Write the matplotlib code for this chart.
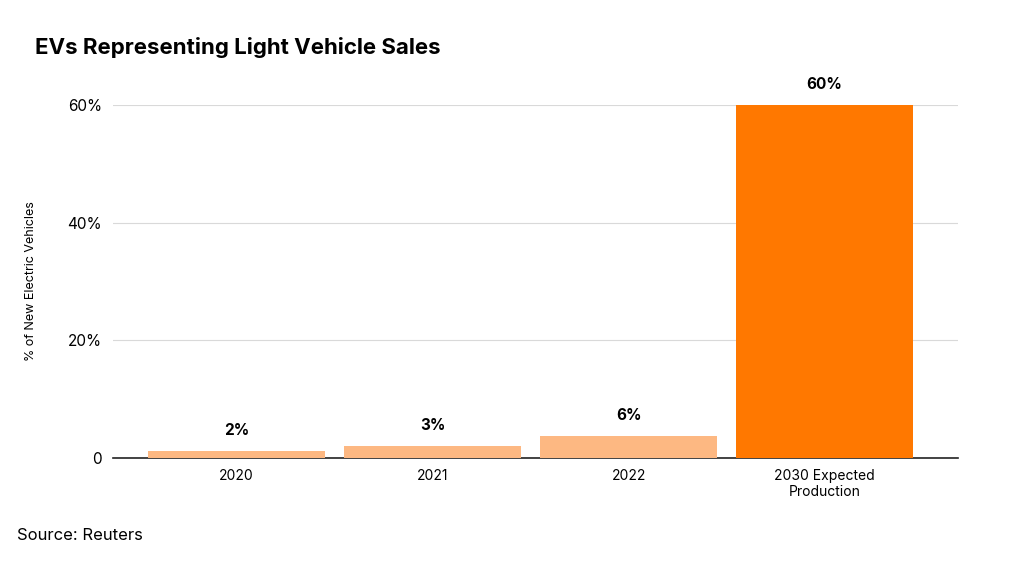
import matplotlib.pyplot as plt
import numpy as np

categories = ["2020", "2021", "2022", "2030 Expected\nProduction"]
heights = [1.2, 2.0, 3.7, 60.0]
labels = ["2%", "3%", "6%", "60%"]
colors = ["#fdb882", "#fdb882", "#fdb882", "#ff7800"]

plt.rcParams['font.family'] = ['Inter', 'DejaVu Sans']

fig = plt.figure(figsize=(10.24, 5.65), dpi=100)
ax = fig.add_axes([113/1024, 1-458/565, (958-113)/1024, (458-105)/565])

x = np.arange(len(categories))
ax.bar(x, heights, width=0.9, color=colors, zorder=3)
for xi, h, lab in zip(x, heights, labels):
    ax.text(xi, h + 2.2, lab, ha='center', va='bottom', fontsize=11, fontweight='bold')

ax.set_xlim(-0.63, 3.68)
ax.set_ylim(0, 60)
ax.set_yticks([0, 20, 40, 60])
ax.set_yticklabels(["0", "20%", "40%", "60%"], fontsize=11)
ax.set_xticks(x)
ax.set_xticklabels(categories, fontsize=10)
ax.tick_params(length=0, pad=8)
ax.grid(axis='y', color='#d9d9d9', linewidth=0.8, zorder=0)
for s in ['top', 'right', 'left']:
    ax.spines[s].set_visible(False)
ax.spines['bottom'].set_color('#222222')
ax.spines['bottom'].set_linewidth(1.2)
ax.set_ylabel("% of New Electric Vehicles", fontsize=9, labelpad=22)

fig.text(35/1024, 1-47/565, "EVs Representing Light Vehicle Sales", fontsize=16,
         fontweight='bold', va='center')
fig.text(17/1024, 1-536/565, "Source: Reuters", fontsize=12, va='center')

fig.savefig("out.png", dpi=100)
